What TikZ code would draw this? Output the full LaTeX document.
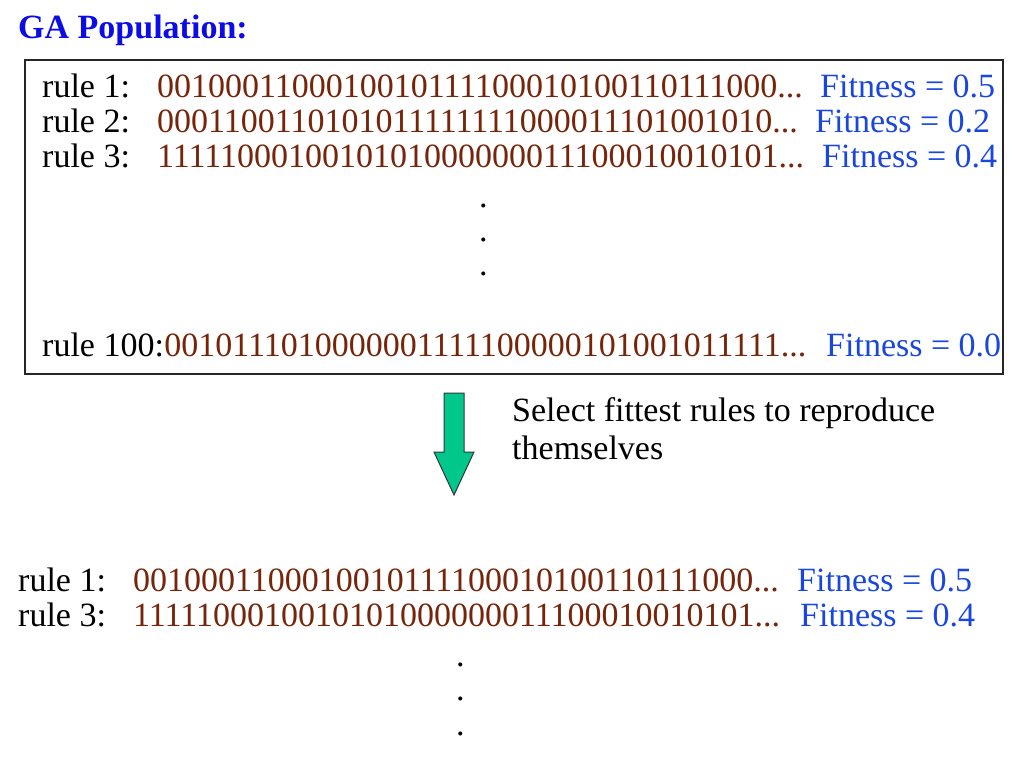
\documentclass[tikz,border=0pt]{standalone}
\usepackage{fontspec}
\setmainfont{Liberation Serif}
\definecolor{titleblue}{RGB}{12,12,230}
\definecolor{fitblue}{RGB}{25,70,222}
\definecolor{bitbrown}{RGB}{118,36,10}
\definecolor{arrowgreen}{RGB}{0,200,140}
\begin{document}
\begin{tikzpicture}[x=1pt,y=-1pt,
  txt/.style={inner sep=0pt, anchor=base west, font=\fontsize{34}{34}\selectfont},
  lbl/.style={txt, text=black},
  bits/.style={txt, text=bitbrown},
  fit/.style={txt, text=fitblue},
  dotm/.style={txt, text=black},
  popbox/.style={draw=black!85, line width=1.2pt},
  blockarrow/.style={draw=black!80, line width=1pt, fill=arrowgreen, line join=miter}]
\useasboundingbox (0,0) rectangle (1024,768);

\node[txt, text=titleblue, font=\fontsize{34}{34}\selectfont\bfseries] (title) at (18,38) {GA Population:};

\draw[popbox] (25,60) rectangle (1003,374);

\node[lbl] (l1) at (42,97) {rule 1:};
\node[bits] (b1) at (157,97) {0010001100010010111100010100110111000...};
\node[fit] (f1) at (820,97) {Fitness = 0.5};

\node[lbl] (l2) at (42,132) {rule 2:};
\node[bits] (b2) at (157,132) {0001100110101011111111000011101001010...};
\node[fit] (f2) at (815,132) {Fitness = 0.2};

\node[lbl] (l3) at (42,167) {rule 3:};
\node[bits] (b3) at (157,167) {1111100010010101000000011100010010101...};
\node[fit] (f3) at (822,167) {Fitness = 0.4};

\node[dotm] (d1) at (479,207) {.};
\node[dotm] (d2) at (479,241) {.};
\node[dotm] (d3) at (479,275) {.};

\node[lbl] (l100) at (42,356) {rule 100:};
\node[bits, anchor=base west] (b100) at (l100.base east) {0010111010000001111100000101001011111...};
\node[fit] (f100) at (826,356) {Fitness = 0.0};

\draw[blockarrow] (444,393) -- (464,393) -- (464,452) -- (474,452) -- (454,495) -- (434,452) -- (444,452) -- cycle;

\node[lbl] (sel1) at (512,421) {Select fittest rules to reproduce};
\node[lbl] (sel2) at (512,459) {themselves};

\node[lbl] (m1) at (18,591) {rule 1:};
\node[bits] (mb1) at (133,591) {0010001100010010111100010100110111000...};
\node[fit] (mf1) at (797,591) {Fitness = 0.5};

\node[lbl] (m3) at (18,626) {rule 3:};
\node[bits] (mb3) at (133,626) {1111100010010101000000011100010010101...};
\node[fit] (mf3) at (800,626) {Fitness = 0.4};

\node[dotm] (e1) at (456,666) {.};
\node[dotm] (e2) at (456,700) {.};
\node[dotm] (e3) at (456,735) {.};
\end{tikzpicture}
\end{document}
